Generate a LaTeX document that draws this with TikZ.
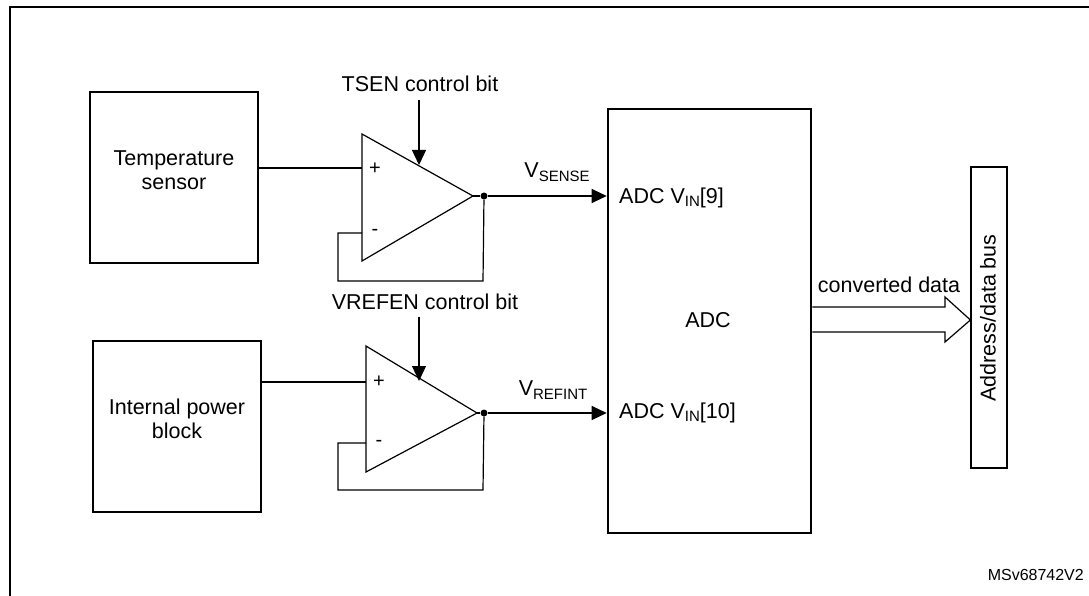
\documentclass[tikz,border=0pt]{standalone}
\usepackage{fontspec}
\setmainfont{Liberation Sans}
\usetikzlibrary{arrows.meta}
\begin{document}
\begin{tikzpicture}[x=1pt,y=-1pt,
  txt/.style={font=\fontsize{21.5}{24}\selectfont, inner sep=0pt, align=center},
  blk/.style={draw, line width=2.6pt, inner sep=0pt},
  thin/.style={line width=1.2pt},
  arr/.style={thin, -{Triangle[length=15pt,width=14pt]}},
  pm/.style={font=\fontsize{20}{20}\selectfont},
  dot/.style={circle, fill, inner sep=0pt, minimum size=7pt}]
\newcommand{\sbs}[1]{\raisebox{-0.3ex}{\fontsize{15}{15}\selectfont #1}}
\useasboundingbox (0,0) rectangle (1089,596);
\draw[line width=2.6pt] (10,610) -- (10,7) -- (1100,7);
% blocks
\node[blk, minimum width=168pt, minimum height=171pt] (ts) at (174,177.5) {};
\node[txt] at (174,170) {Temperature\\sensor};
\node[blk, minimum width=168pt, minimum height=171pt] (pb) at (177,426.5) {};
\node[txt] at (177,419) {Internal power\\block};
\node[blk, minimum width=203pt, minimum height=424pt] (adc) at (709.5,321) {};
\node[txt] at (708,320) {ADC};
\node[draw, thin, minimum width=36pt, minimum height=301pt, inner sep=0pt] (bus) at (989,317.5) {};
\node[txt, rotate=90] at (988,318) {Address/data bus};
% opamp 1
\coordinate (a1t) at (362,134); \coordinate (a1b) at (362,261); \coordinate (a1o) at (473,196);
\draw[thin] (a1t) -- (a1o) -- (a1b) -- cycle;
\node[pm] at (375,169) {+};
\node[pm] at (375,232) {-};
\draw[thin] (ts.east |- 0,168) -- (362,168);
\node[dot] (d1) at (484,196) {};
\draw[thin] (a1o) -- (d1);
\draw[thin] (362,233) -- (338,233) -- (338,281) -- (483,281) -- (d1);
\node[txt] (tsen) at (420,84) {TSEN control bit};
\coordinate (t1) at (419,100);
\draw[arr] (t1) -- (419,165);
\draw[arr] (d1) -- (adc.west |- d1);
\node[txt] at (557,172) {V\sbs{SENSE}};
\node[txt, anchor=west] at (619,198) {ADC V\sbs{IN}[9]};
% opamp 2
\coordinate (a2t) at (366,346); \coordinate (a2b) at (366,472); \coordinate (a2o) at (477,413);
\draw[thin] (a2t) -- (a2o) -- (a2b) -- cycle;
\node[pm] at (379,382) {+};
\node[pm] at (379,443) {-};
\draw[thin] (pb.east |- 0,382) -- (366,382);
\node[dot] (d2) at (484,413) {};
\draw[thin] (a2o) -- (d2);
\draw[thin] (366,443) -- (338,443) -- (338,490) -- (483,490) -- (d2);
\node[txt] (vref) at (425,302) {VREFEN control bit};
\coordinate (t2) at (419,317);
\draw[arr] (t2) -- (419,381);
\draw[arr] (d2) -- (adc.west |- d2);
\node[txt] at (553,390) {V\sbs{REFINT}};
\node[txt, anchor=west] at (619,413) {ADC V\sbs{IN}[10]};
% converted data arrow
\draw[thin, fill=white] (adc.east |- 0,307) -- (945,307) -- (945,297) -- (bus.west |- 0,320) -- (945,342) -- (945,332) -- (adc.east |- 0,332);
\node[txt] at (889,285) {converted data};
\node[font=\fontsize{16}{16}\selectfont, anchor=east, inner sep=0pt] at (1084,575) {MSv68742V2};
\end{tikzpicture}
\end{document}
